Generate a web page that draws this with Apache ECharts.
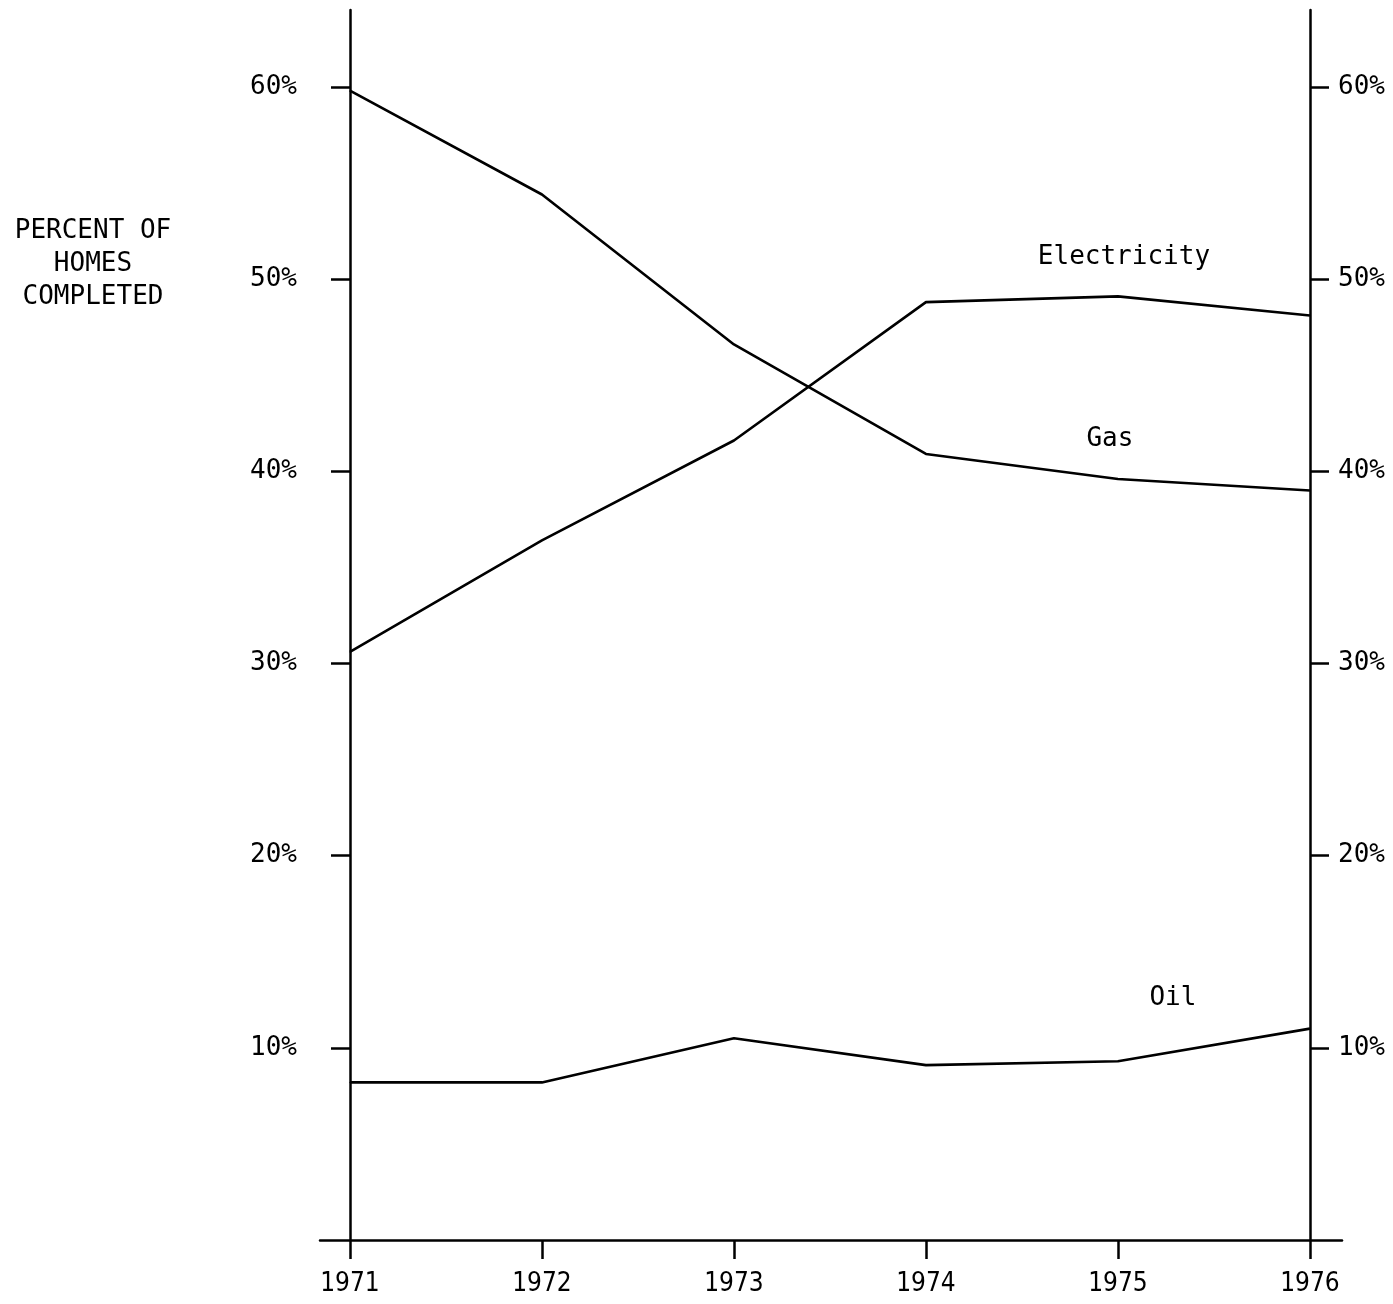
<!DOCTYPE html>
<html><head><meta charset="utf-8">
<script src="https://cdn.jsdelivr.net/npm/echarts@6/dist/echarts.min.js"></script>
<style>html,body{margin:0;padding:0;background:#fff}#c{width:1393px;height:1304px}</style>
</head><body><div id="c"></div>
<script>
const years = [1971, 1972, 1973, 1974, 1975, 1976];
const gas = [59.8, 54.4, 46.6, 40.9, 39.6, 39.0];
const electricity = [30.6, 36.4, 41.6, 48.8, 49.1, 48.1];
const oil = [8.2, 8.2, 10.5, 9.1, 9.3, 11.0];
const yTicks = [10, 20, 30, 40, 50, 60];
const titleText = 'PERCENT OF\nHOMES\nCOMPLETED';

const numFont = 'DejaVu Sans Mono';
const yearFont = 'DejaVu Sans Condensed';
const txtFont = 'DejaVu Sans Mono';

function pairs(vals, labelIdx, labelText, offset) {
  return vals.map((v, i) => {
    const item = { value: [years[i], v] };
    if (i === labelIdx) {
      item.label = { show: true, position: 'top', distance: 26, offset: offset,
        formatter: labelText, fontFamily: txtFont, fontSize: 26, color: '#000' };
    }
    return item;
  });
}
const lineStyle = { color: '#000', width: 2.6 };
function mkSeries(name, vals, idx, offset) {
  return { name, type: 'line', data: pairs(vals, idx, name, offset),
    symbol: 'circle', symbolSize: 1, showSymbol: true,
    itemStyle: { color: '#000' },
    lineStyle, silent: true, animation: false, label: { show: false } };
}
const yAx = (pos, offset, margin) => ({
  type: 'value', position: pos, offset: offset, min: 0, max: 64,
  splitLine: { show: false },
  axisLine: { show: true, onZero: false, lineStyle: { color: '#000', width: 2.5 } },
  axisTick: { show: true, inside: false, length: 19, customValues: yTicks, lineStyle: { color: '#000', width: 2.5 } },
  axisLabel: { show: true, margin: margin, customValues: yTicks, formatter: v => v + '%',
    fontFamily: numFont, fontSize: 26, color: '#000' }
});
const chart = echarts.init(document.getElementById('c'), null, { renderer: 'canvas' });
chart.setOption({
  backgroundColor: '#fff',
  animation: false,
  title: { text: titleText, left: 88, top: 210, textAlign: 'center',
    textStyle: { fontFamily: txtFont, fontSize: 26, fontWeight: 'normal', color: '#000', lineHeight: 33 } },
  grid: { left: 320, right: 51, top: 10, bottom: 64, containLabel: false },
  xAxis: {
    type: 'value', min: 1970.844, max: 1976.167,
    splitLine: { show: false },
    axisLine: { show: true, onZero: false, lineStyle: { color: '#000', width: 2.5 } },
    axisTick: { show: true, length: 19, customValues: years, lineStyle: { color: '#000', width: 2.5 } },
    axisLabel: { show: true, margin: 31, customValues: years, formatter: v => String(v),
      fontFamily: yearFont, fontSize: 26, color: '#000' }
  },
  yAxis: [yAx('left', -30, 53), yAx('right', -32, 28)],
  series: [
    mkSeries('Gas', gas, 4, [-8, 0]),
    mkSeries('Electricity', electricity, 4, [6, 0]),
    mkSeries('Oil', oil, 4, [55, -24])
  ]
});
</script></body></html>
